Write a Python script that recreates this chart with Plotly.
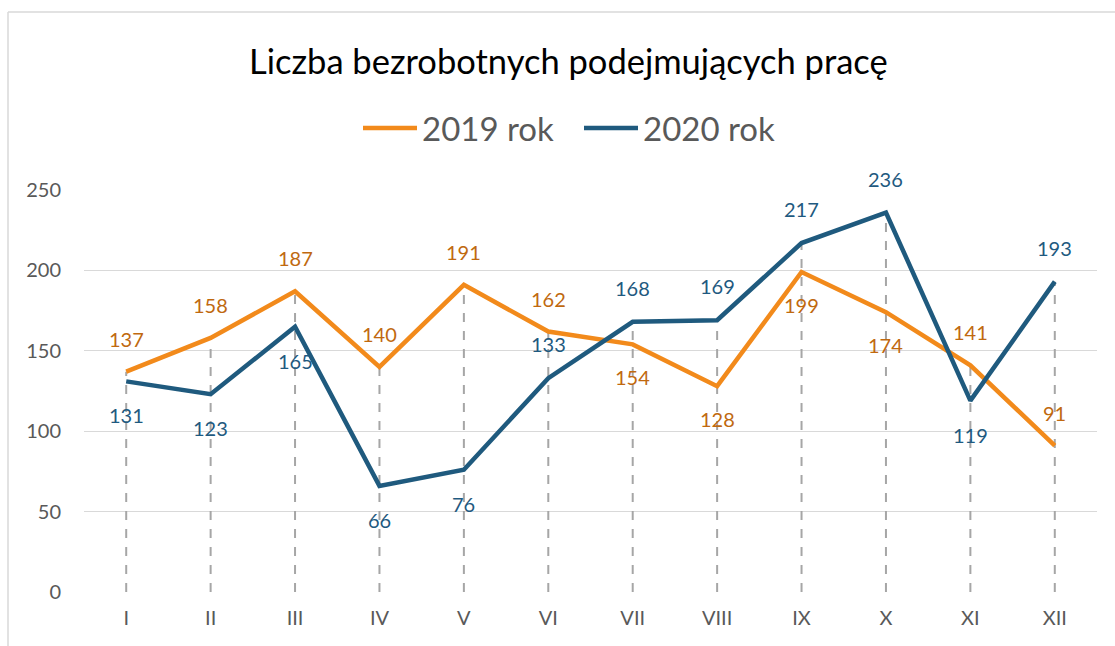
import plotly.graph_objects as go

months = ["I", "II", "III", "IV", "V", "VI", "VII", "VIII", "IX", "X", "XI", "XII"]
v2019 = [137, 158, 187, 140, 191, 162, 154, 128, 199, 174, 141, 91]
v2020 = [131, 123, 165, 66, 76, 133, 168, 169, 217, 236, 119, 193]
# label placement: 1 = above point, -1 = below point
pos2019 = [1, 1, 1, 1, 1, 1, -1, -1, -1, -1, 1, 1]
pos2020 = [-1, -1, -1, -1, -1, 1, 1, 1, 1, 1, -1, 1]
ytick_vals = [0, 50, 100, 150, 200, 250]

title_text = "Liczba bezrobotnych podejmujących pracę"
name2019 = "2019 rok"
name2020 = "2020 rok"

C_OR = "#F28A1B"
C_BL = "#1F5A7E"
C_OR_T = "#C0690F"
C_BL_T = "#1F5A80"
FONT = "Lato"

W, H = 1115, 646
L, R, T, B = 84, 18, 190, 54
pw, ph = W - L - R, H - T - B

def px_x(px):
    return (px - L) / pw

def px_y(py):
    return (H - B - py) / ph

fig = go.Figure()

# drop lines
dx, dy = [], []
for m, a, b in zip(months, v2019, v2020):
    dx += [m, m, None]
    dy += [0, max(a, b), None]
fig.add_trace(go.Scatter(x=dx, y=dy, mode="lines", showlegend=False, hoverinfo="skip",
                         line=dict(color="#A6A6A6", width=2, dash="dash")))

fig.add_trace(go.Scatter(x=months, y=v2019, mode="lines", name=name2019,
                         line=dict(color=C_OR, width=4.5)))
fig.add_trace(go.Scatter(x=months, y=v2020, mode="lines", name=name2020,
                         line=dict(color=C_BL, width=4.5)))

anns = []
for m, v, p in zip(months, v2019, pos2019):
    anns.append(dict(x=m, y=v, text=str(v), showarrow=False, yshift=33 * p,
                     font=dict(family=FONT, size=20, color=C_OR_T)))
for m, v, p in zip(months, v2020, pos2020):
    anns.append(dict(x=m, y=v, text=str(v), showarrow=False, yshift=34 * p,
                     font=dict(family=FONT, size=20, color=C_BL_T)))
anns.append(dict(xref="paper", yref="paper", x=px_x(568), y=px_y(60), text=title_text,
                 showarrow=False, xanchor="center", yanchor="middle",
                 font=dict(family=FONT, size=34.5, color="#000000")))

shapes = [
    dict(type="line", xref="paper", yref="paper", x0=px_x(8), x1=px_x(1120),
         y0=px_y(12), y1=px_y(12), line=dict(color="#D9D9D9", width=1.5)),
    dict(type="line", xref="paper", yref="paper", x0=px_x(8), x1=px_x(8),
         y0=px_y(12), y1=px_y(650), line=dict(color="#D9D9D9", width=1.5)),
]

fig.update_layout(
    width=W, height=H,
    margin=dict(l=L, r=R, t=T, b=B),
    paper_bgcolor="white", plot_bgcolor="white",
    font=dict(family=FONT, color="#595959"),
    annotations=anns, shapes=shapes,
    legend=dict(orientation="h", x=px_x(579), xanchor="center", y=px_y(128), yanchor="middle",
                font=dict(family=FONT, size=33, color="#595959"), itemwidth=54,
                entrywidth=152, bgcolor="rgba(0,0,0,0)"),
    xaxis=dict(type="category", categoryorder="array", categoryarray=months,
               range=[-0.5, 11.5], showgrid=False, zeroline=False, showline=False,
               ticks="", tickfont=dict(family=FONT, size=20, color="#595959"),
               ticklabelstandoff=12),
    yaxis=dict(range=[0, 250], tickvals=ytick_vals, showgrid=True, gridcolor="#D9D9D9",
               gridwidth=1.2, zeroline=False, showline=False, ticks="",
               tickfont=dict(family=FONT, size=20, color="#595959"),
               ticklabelstandoff=22),
)

fig.write_html("out.html", config={"displayModeBar": False},
               post_script="document.body.style.margin='0px';")
